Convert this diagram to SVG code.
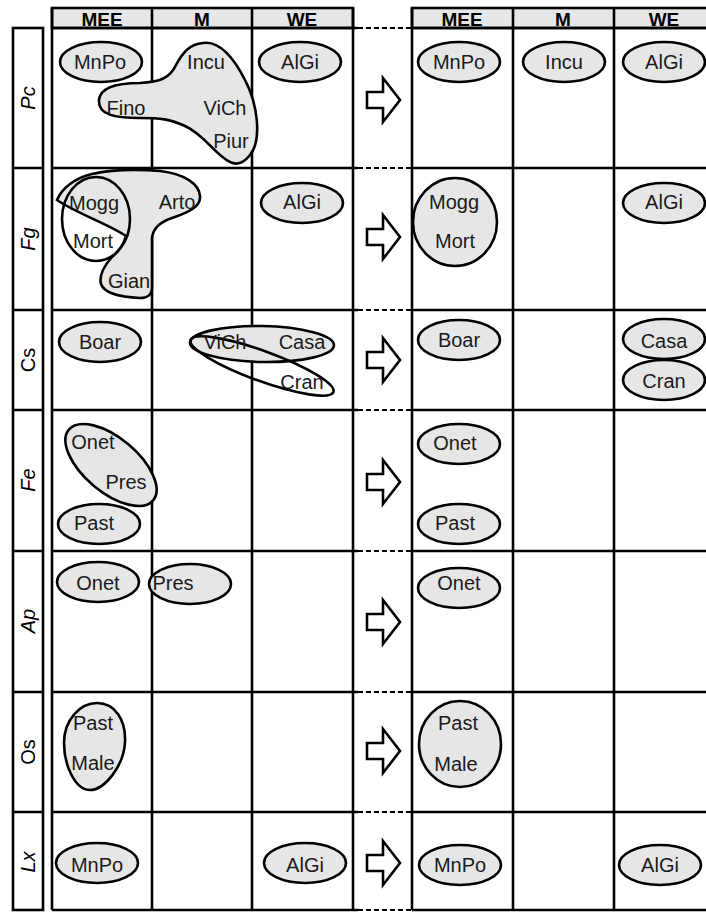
<svg xmlns="http://www.w3.org/2000/svg" width="706" height="912" viewBox="0 0 706 912">
<style>
.ln{stroke:#000;stroke-width:2.6;fill:none}
.dash{stroke:#000;stroke-width:2.2;stroke-dasharray:5 3;fill:none}
.hdr{fill:#e6e6e6;stroke:#000;stroke-width:2.6}
.ht{font-family:"Liberation Sans",Arial,sans-serif;font-size:19px;font-weight:bold;text-anchor:middle;fill:#000}
.lb{font-family:"Liberation Sans",Arial,sans-serif;font-size:20px;font-style:italic;text-anchor:middle;fill:#000}
.lbn{font-family:"Liberation Sans",Arial,sans-serif;font-size:20px;text-anchor:middle;fill:#000}
.g{fill:#e6e6e6;stroke:#000;stroke-width:2.6}
.o{fill:none;stroke:#000;stroke-width:2.6}
.t{font-family:"Liberation Sans",Arial,sans-serif;font-size:20px;text-anchor:middle;fill:#1a1a1a}
.arr{fill:#fff;stroke:#000;stroke-width:2.6;stroke-linejoin:miter}
</style>
<rect width="706" height="912" fill="#fff"/>
<g id="grid">
<rect class="hdr" x="52" y="8" width="301" height="20"/>
<rect class="hdr" x="412" y="8" width="310" height="20"/>
<text class="ht" x="102" y="25.5">MEE</text>
<text class="ht" x="202" y="25.5">M</text>
<text class="ht" x="302" y="25.5">WE</text>
<text class="ht" x="462" y="25.5">MEE</text>
<text class="ht" x="563" y="25.5">M</text>
<text class="ht" x="664" y="25.5">WE</text>
<path class="ln" d="M52,8V910M152,8V910M252,8V910M353,8V910"/>
<path class="ln" d="M412,8V910M513,8V910M614,8V910"/>
<path class="ln" d="M52,28H358M52,168H358M52,310H358M52,410H358M52,551H358M52,692H358M52,812H358M52,910H358"/>
<path class="ln" d="M412,28H706M412,168H706M412,310H706M412,410H706M412,551H706M412,692H706M412,812H706M412,910H706"/>
<path class="dash" d="M358,28H412M358,168H412M358,310H412M358,410H412M358,551H412M358,692H412M358,812H412M358,910H412"/>
<rect class="ln" x="13" y="28" width="30" height="882"/>
<path class="ln" d="M13,168H43M13,310H43M13,410H43M13,551H43M13,692H43M13,812H43"/>
<text class="lb" transform="translate(35,98) rotate(-90)">Pc</text>
<text class="lb" transform="translate(35,239) rotate(-90)">Fg</text>
<text class="lbn" transform="translate(35,360) rotate(-90)">Cs</text>
<text class="lb" transform="translate(35,480) rotate(-90)">Fe</text>
<text class="lb" transform="translate(35,621) rotate(-90)">Ap</text>
<text class="lbn" transform="translate(35,752) rotate(-90)">Os</text>
<text class="lb" transform="translate(35,862) rotate(-90)">Lx</text>
</g>
<g id="arrows">
<path class="arr" d="M367,92H383V78L400,100L383,122V108H367Z"/>
<path class="arr" d="M367,229H383V215L400,237L383,259V245H367Z"/>
<path class="arr" d="M367,352H383V338L400,360L383,382V368H367Z"/>
<path class="arr" d="M367,474H383V460L400,482L383,504V490H367Z"/>
<path class="arr" d="M367,614H383V600L400,622L383,644V630H367Z"/>
<path class="arr" d="M367,743H383V729L400,751L383,773V759H367Z"/>
<path class="arr" d="M367,855H383V841L400,863L383,885V871H367Z"/>
</g>
<g id="pc-left">
<ellipse class="g" cx="101" cy="62" rx="41" ry="20"/>
<text class="t" x="100" y="69">MnPo</text>
<path class="g" d="M203,43 C220,40 235,60 245,80 C258,105 262,140 250,155 C243,164 236,165 230,162 C215,155 205,135 185,126 C170,119 160,118 140,118 C115,118 98,115 99,100 C100,88 115,83 140,83 C160,82 170,78 176,65 C183,52 190,44 203,43 Z"/>
<text class="t" x="206" y="69">Incu</text>
<text class="t" x="126" y="115">Fino</text>
<text class="t" x="225" y="115">ViCh</text>
<text class="t" x="231" y="148">Piur</text>
<ellipse class="g" cx="300" cy="62" rx="41" ry="20"/>
<text class="t" x="300" y="69">AlGi</text>
</g>
<g id="pc-right">
<ellipse class="g" cx="459" cy="62" rx="41" ry="20"/>
<text class="t" x="459" y="69">MnPo</text>
<ellipse class="g" cx="564" cy="62" rx="41" ry="20"/>
<text class="t" x="564" y="69">Incu</text>
<ellipse class="g" cx="664" cy="62" rx="41" ry="20"/>
<text class="t" x="664" y="69">AlGi</text>
</g>
<g id="fg-left">
<path class="g" d="M57,200 C78,214 108,224 126,236 C123,246 118,252 112,257 C104,266 99,276 101,284 C104,293 120,297 140,298 C148,298 152,294 152,288 L152,238 C153,228 160,222 172,218 C190,212 201,206 200,196 C199,184 185,174 160,171 C135,169 110,170 92,174 C75,178 62,188 57,200 Z"/>
<ellipse class="o" cx="96" cy="219" rx="34" ry="42"/>
<text class="t" x="94" y="210">Mogg</text>
<text class="t" x="93" y="248">Mort</text>
<text class="t" x="177" y="209">Arto</text>
<text class="t" x="129" y="288">Gian</text>
<ellipse class="g" cx="302" cy="203" rx="41" ry="20"/>
<text class="t" x="302" y="209">AlGi</text>
</g>
<g id="fg-right">
<ellipse class="g" cx="455" cy="222" rx="42" ry="44"/>
<text class="t" x="454" y="209">Mogg</text>
<text class="t" x="455" y="248">Mort</text>
<ellipse class="g" cx="664" cy="203" rx="41" ry="20"/>
<text class="t" x="664" y="209">AlGi</text>
</g>
<g id="cs-left">
<ellipse class="g" cx="100" cy="342" rx="41" ry="20"/>
<text class="t" x="100" y="349">Boar</text>
<ellipse class="g" cx="262" cy="344" rx="72" ry="18" transform="rotate(1 262 344)"/>
<ellipse class="o" cx="262" cy="366" rx="76" ry="15" transform="rotate(20 262 366)"/>
<text class="t" x="225" y="349">ViCh</text>
<text class="t" x="302" y="349">Casa</text>
<text class="t" x="302" y="389">Cran</text>
</g>
<g id="cs-right">
<ellipse class="g" cx="459" cy="340" rx="41" ry="20"/>
<text class="t" x="459" y="347">Boar</text>
<ellipse class="g" cx="664" cy="339" rx="41" ry="20"/>
<text class="t" x="664" y="348">Casa</text>
<ellipse class="g" cx="664" cy="380" rx="41" ry="20"/>
<text class="t" x="664" y="388">Cran</text>
</g>
<g id="fe-left">
<ellipse class="g" cx="111" cy="465" rx="55" ry="27" transform="rotate(40 111 465)"/>
<text class="t" x="93" y="449">Onet</text>
<text class="t" x="126" y="489">Pres</text>
<ellipse class="g" cx="99" cy="524" rx="41" ry="20"/>
<text class="t" x="94" y="530">Past</text>
</g>
<g id="fe-right">
<ellipse class="g" cx="459" cy="444" rx="41" ry="20"/>
<text class="t" x="455" y="450">Onet</text>
<ellipse class="g" cx="459" cy="524" rx="41" ry="20"/>
<text class="t" x="455" y="530">Past</text>
</g>
<g id="ap-left">
<ellipse class="g" cx="98" cy="582" rx="41" ry="20"/>
<text class="t" x="98" y="590">Onet</text>
<ellipse class="g" cx="190" cy="584" rx="41" ry="20"/>
<text class="t" x="173" y="590">Pres</text>
</g>
<g id="ap-right">
<ellipse class="g" cx="459" cy="588" rx="41" ry="20"/>
<text class="t" x="459" y="590">Onet</text>
</g>
<g id="os-left">
<path class="g" d="M97,703 C115,703 126,720 125,742 C124,765 105,790 90,790 C75,790 64,765 64,743 C64,720 80,703 97,703 Z"/>
<text class="t" x="93" y="730">Past</text>
<text class="t" x="93" y="770">Male</text>
</g>
<g id="os-right">
<ellipse class="g" cx="460" cy="744" rx="41" ry="43"/>
<text class="t" x="458" y="730">Past</text>
<text class="t" x="456" y="771">Male</text>
</g>
<g id="lx-left">
<ellipse class="g" cx="97" cy="863" rx="41" ry="20"/>
<text class="t" x="97" y="872">MnPo</text>
<ellipse class="g" cx="305" cy="863" rx="41" ry="20"/>
<text class="t" x="305" y="872">AlGi</text>
</g>
<g id="lx-right">
<ellipse class="g" cx="460" cy="865" rx="41" ry="20"/>
<text class="t" x="460" y="872">MnPo</text>
<ellipse class="g" cx="660" cy="865" rx="41" ry="20"/>
<text class="t" x="660" y="872">AlGi</text>
</g>
</svg>
